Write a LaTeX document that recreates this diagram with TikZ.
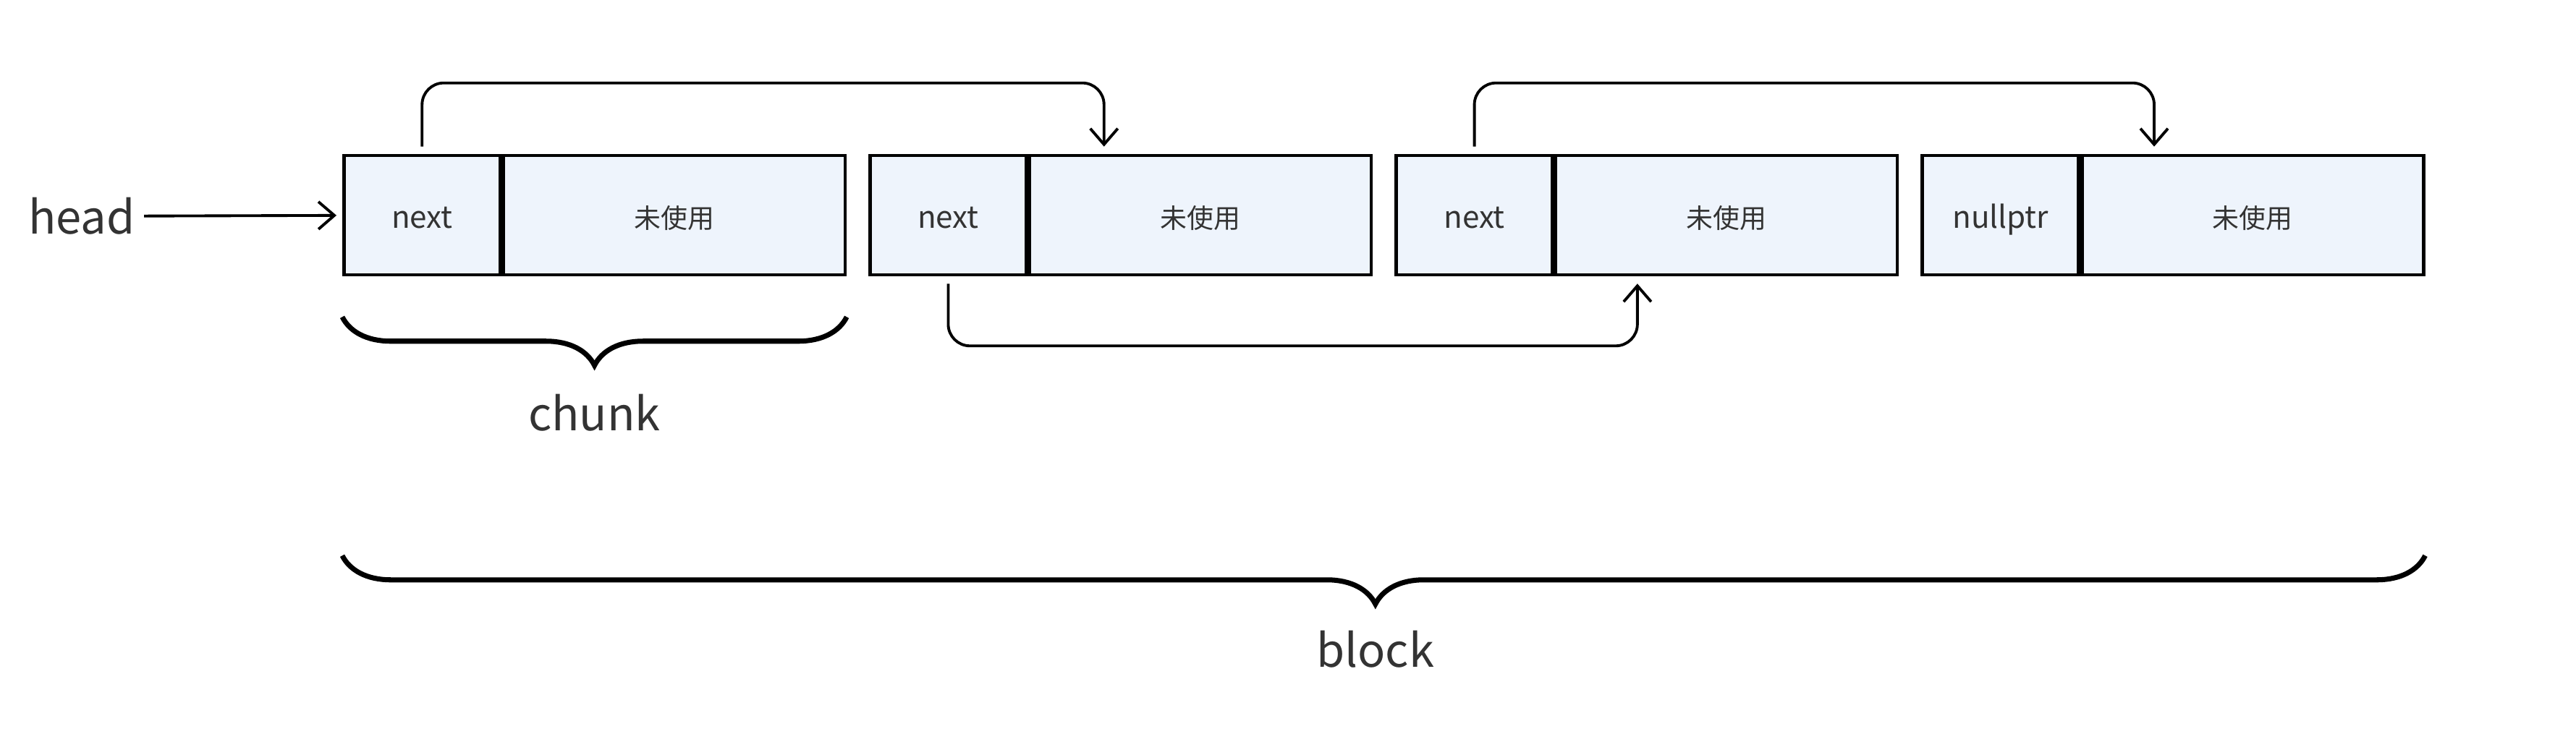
\documentclass[tikz,border=0pt]{standalone}
\usepackage{fontspec}
\setmainfont{Noto Sans CJK SC}
\usetikzlibrary{positioning,arrows.meta,decorations.pathreplacing}
\definecolor{cellfill}{HTML}{EEF4FC}
\definecolor{txt}{HTML}{333333}

\begin{document}
\begin{tikzpicture}[
    cell/.style={draw, line width=1.3pt, fill=cellfill, minimum height=1.65cm, inner sep=0pt, text=txt, text height=0.36cm, text depth=0pt},
    nextcell/.style={cell, minimum width=2.16cm, font=\fontsize{12}{14}\selectfont},
    datacell/.style={cell, minimum width=4.72cm, font=\fontsize{10.5}{12}\selectfont},
    ptr/.style={-{Straight Barb[length=2.2mm,width=3.8mm]}, line width=1.1pt, rounded corners=0.3cm},
    brace/.style={decorate, decoration={brace, mirror, amplitude=0.67cm}, line width=2pt},
    bigtext/.style={text=txt, font=\fontsize{18}{22}\selectfont}
  ]
  \useasboundingbox (0,0) rectangle (35.6,10.26);

  % the four chunks of the block
  \node[nextcell, anchor=west] (next1) at (4.73,7.285) {next};
  \node[datacell, right=0pt of next1] (data1) {未使用};
  \node[nextcell, right=0.3cm of data1] (next2) {next};
  \node[datacell, right=0pt of next2] (data2) {未使用};
  \node[nextcell, right=0.3cm of data2] (next3) {next};
  \node[datacell, right=0pt of next3] (data3) {未使用};
  \node[nextcell, right=0.3cm of data3] (next4) {nullptr};
  \node[datacell, right=0pt of next4] (data4) {未使用};

  \node[bigtext] (head) at (1.13,7.27) {head};
  \draw[ptr, shorten >=0.08cm] (head) -- (next1);

  % free list pointers
  \coordinate (t1) at ([xshift=1.05cm]data2.north west);
  \coordinate (t2) at ([xshift=1.15cm]data3.south west);
  \coordinate (t3) at ([xshift=1.02cm]data4.north west);
  \draw[ptr, shorten <=0.1cm, shorten >=0.1cm] (next1.north) -- ++(0,0.98) -| (t1);
  \draw[ptr, shorten <=0.1cm, shorten >=0.1cm] (next2.south) -- ++(0,-0.96) -| (t2);
  \draw[ptr, shorten <=0.1cm, shorten >=0.1cm] (next3.north) -- ++(0,0.98) -| (t3);

  % braces
  \draw[brace] ([yshift=-0.56cm]next1.south west) -- ([yshift=-0.56cm]data1.south east)
    node[bigtext, midway, yshift=-1.32cm] (chunk) {chunk};
  \draw[brace, decoration={aspect=0.496}] ([yshift=-3.86cm]next1.south west) -- ([yshift=-3.86cm]data4.south east)
    node[bigtext, pos=0.496, yshift=-1.29cm] (block) {block};
\end{tikzpicture}
\end{document}
